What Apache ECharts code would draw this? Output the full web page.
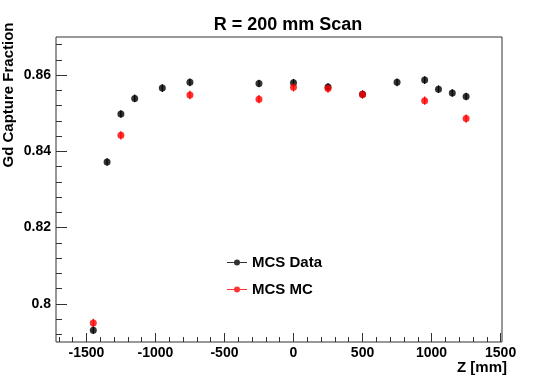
<!DOCTYPE html>
<html>
<head>
<meta charset="utf-8">
<script src="https://cdn.jsdelivr.net/npm/echarts@6/dist/echarts.min.js"></script>
<style>
html,body{margin:0;padding:0;background:#fff;}
#chart{width:538px;height:380px;}
</style>
</head>
<body>
<div id="chart"></div>
<script>
// ---- Data ----
const dataZ   = [-1450, -1350, -1250, -1150, -950, -750, -250, 0, 250, 500, 750, 950, 1050, 1150, 1250];
const dataVal = [0.7931, 0.8372, 0.8498, 0.8539, 0.8566, 0.8581, 0.8578, 0.8580, 0.8569, 0.8550, 0.8581, 0.8587, 0.8563, 0.8553, 0.8544];
const dataErr = [0.0010, 0.0010, 0.0010, 0.0010, 0.0010, 0.0010, 0.0010, 0.0010, 0.0010, 0.0010, 0.0010, 0.0010, 0.0010, 0.0010, 0.0010];

const mcZ   = [-1450, -1250, -750, -250, 0, 250, 500, 950, 1250];
const mcVal = [0.7950, 0.8442, 0.8548, 0.8537, 0.8568, 0.8565, 0.8549, 0.8533, 0.8486];
const mcErr = [0.0011, 0.0011, 0.0011, 0.0011, 0.0011, 0.0011, 0.0011, 0.0011, 0.0011];

const xMajorTicks = [-1500, -1000, -500, 0, 500, 1000, 1500];
const xMinorTicks = [-1700, -1600, -1500, -1400, -1300, -1200, -1100, -1000, -900, -800, -700, -600, -500, -400, -300, -200, -100, 0, 100, 200, 300, 400, 500, 600, 700, 800, 900, 1000, 1100, 1200, 1300, 1400, 1500];
const yMajorTicks = [0.80, 0.82, 0.84, 0.86];
const yMinorTicks = [0.792, 0.796, 0.800, 0.804, 0.808, 0.812, 0.816, 0.820, 0.824, 0.828, 0.832, 0.836, 0.840, 0.844, 0.848, 0.852, 0.856, 0.860, 0.864, 0.868];

const titleText = 'R = 200 mm Scan';
const xTitle = 'Z [mm]';
const yTitle = 'Gd Capture Fraction';
const seriesNames = ['MCS Data', 'MCS MC'];

// ---- Build ----
const FONT = '"Liberation Sans", Arial, Helvetica, sans-serif';
const X_MIN = -1720, X_MAX = 1510, Y_MIN = 0.79, Y_MAX = 0.87;

function pts(xs, ys) { return xs.map((x, i) => [x, ys[i]]); }
function errPts(xs, ys, es) { return xs.map((x, i) => [x, ys[i] - es[i], ys[i] + es[i]]); }

function errSeries(data, color) {
  return {
    type: 'custom',
    xAxisIndex: 0, yAxisIndex: 0,
    silent: true,
    data: data,
    renderItem: function (params, api) {
      const x = api.value(0);
      const p1 = api.coord([x, api.value(1)]);
      const p2 = api.coord([x, api.value(2)]);
      return {
        type: 'line',
        shape: { x1: p1[0], y1: p1[1], x2: p2[0], y2: p2[1] },
        style: { stroke: color, lineWidth: 1.2 }
      };
    },
    encode: { x: 0, y: [1, 2] }
  };
}

// legend icon: short line on both sides + filled dot (no overlapping sub-paths)
const legendIcon = 'path://M0,3.5 L7.2,3.5 L7.2,4.5 L0,4.5 Z M12.8,3.5 L20,3.5 L20,4.5 L12.8,4.5 Z M7,4 A3,3 0 1,1 13,4 A3,3 0 1,1 7,4 Z';

const baseAxisX = {
  type: 'value', min: X_MIN, max: X_MAX, gridIndex: 0,
  splitLine: { show: false }, axisLine: { show: false, onZero: false }
};
const baseAxisY = {
  type: 'value', min: Y_MIN, max: Y_MAX, gridIndex: 0,
  splitLine: { show: false }, axisLine: { show: false, onZero: false }
};

const option = {
  animation: false,
  backgroundColor: '#ffffff',
  textStyle: { fontFamily: FONT },
  title: {
    text: titleText,
    left: 283, top: 11, textAlign: 'center',
    textStyle: { fontFamily: FONT, fontWeight: 'bold', fontSize: 18, color: '#000' }
  },
  grid: {
    left: 56, right: 36, top: 37, bottom: 38,
    show: true, borderColor: '#333', borderWidth: 1, backgroundColor: 'transparent'
  },
  legend: {
    orient: 'vertical',
    left: 227, top: 255, padding: 0,
    itemWidth: 20, itemHeight: 6, itemGap: 12,
    icon: legendIcon,
    itemStyle: { borderWidth: 0 },
    data: seriesNames,
    textStyle: { fontFamily: FONT, fontWeight: 'bold', fontSize: 15, color: '#000' }
  },
  xAxis: [
    Object.assign({}, baseAxisX, {
      position: 'bottom',
      axisTick: { show: true, inside: true, length: 9, customValues: xMajorTicks, lineStyle: { color: '#333' } },
      axisLabel: {
        show: true, customValues: xMajorTicks, margin: 4,
        fontFamily: FONT, fontWeight: 'bold', fontSize: 14, color: '#000',
        formatter: function (v) { return String(Math.round(v)); }
      }
    }),
    Object.assign({}, baseAxisX, {
      position: 'bottom',
      axisTick: { show: true, inside: true, length: 5, customValues: xMinorTicks, lineStyle: { color: '#333' } },
      axisLabel: { show: false }
    })
  ],
  yAxis: [
    Object.assign({}, baseAxisY, {
      position: 'left',
      axisTick: { show: true, inside: true, length: 11, customValues: yMajorTicks, lineStyle: { color: '#333' } },
      axisLabel: {
        show: true, customValues: yMajorTicks, margin: 5,
        fontFamily: FONT, fontWeight: 'bold', fontSize: 14, color: '#000',
        formatter: function (v) { return String(parseFloat(Number(v).toFixed(3))); }
      }
    }),
    Object.assign({}, baseAxisY, {
      position: 'left',
      axisTick: { show: true, inside: true, length: 6, customValues: yMinorTicks, lineStyle: { color: '#333' } },
      axisLabel: { show: false }
    })
  ],
  graphic: [
    {
      type: 'text',
      x: 9, y: 95, rotation: Math.PI / 2,
      style: {
        text: yTitle, fontFamily: FONT, fontWeight: 'bold', fontSize: 15, fill: '#000',
        align: 'center', verticalAlign: 'middle'
      }
    },
    {
      type: 'text',
      x: 507, y: 368,
      style: {
        text: xTitle, fontFamily: FONT, fontWeight: 'bold', fontSize: 15, fill: '#000',
        align: 'right', verticalAlign: 'middle'
      }
    }
  ],
  series: [
    errSeries(errPts(dataZ, dataVal, dataErr), '#000'),
    {
      name: seriesNames[0], type: 'scatter', xAxisIndex: 0, yAxisIndex: 0,
      symbol: 'circle', symbolSize: 7,
      itemStyle: { color: '#000' },
      data: pts(dataZ, dataVal)
    },
    errSeries(errPts(mcZ, mcVal, mcErr), '#ff0000'),
    {
      name: seriesNames[1], type: 'scatter', xAxisIndex: 0, yAxisIndex: 0,
      symbol: 'circle', symbolSize: 7,
      itemStyle: { color: '#ff0000' },
      data: pts(mcZ, mcVal)
    }
  ]
};

const chart = echarts.init(document.getElementById('chart'), null, { renderer: 'canvas' });
chart.setOption(option);
</script>
</body>
</html>
